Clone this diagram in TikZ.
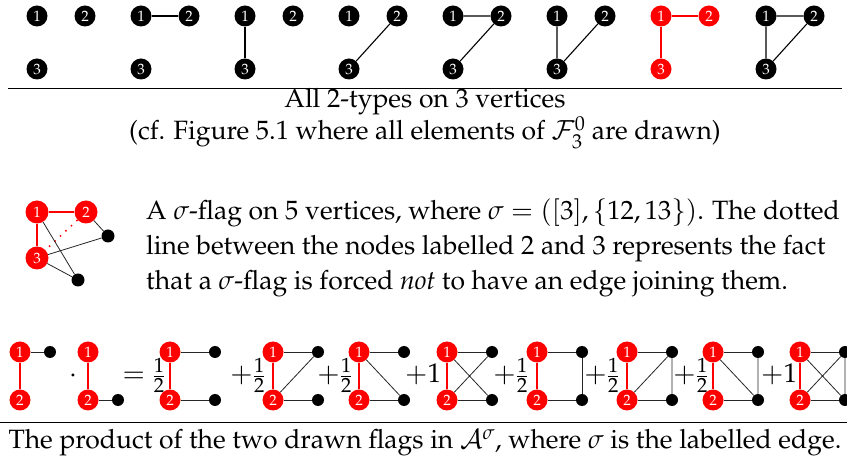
\documentclass[tikz,border=0pt]{standalone}
\usepackage[T1]{fontenc}
\usepackage{mathpazo}
\usepackage{amsmath}
\usepackage{tikz}

\tikzset{
  vlab/.style={circle, fill=black, text=white, inner sep=0pt, minimum size=21pt, font=\fontsize{15}{15}\selectfont},
  vlabred/.style={vlab, fill=red},
  vdot/.style={circle, fill=black, inner sep=0pt, minimum size=12pt},
  link/.style={line width=1.1pt},
  rlink/.style={link, red},
  blink/.style={line width=0.8pt, black!85},
  opsym/.style={anchor=base, inner sep=0pt, font=\fontsize{27}{27}\selectfont},
  txtline/.style={anchor=base west, inner sep=0pt},
}

\begin{document}
\begin{tikzpicture}[x=1pt, y=-1pt, font=\fontsize{26.5}{32}\selectfont]
\useasboundingbox (0,0) rectangle (847,462);
% all 2-types on 3 vertices
\foreach \i/\x/\s in {1/37/vlab, 2/141/vlab, 3/245/vlab, 4/349/vlab, 5/453/vlab, 6/557/vlab, 7/661/vlabred, 8/766/vlab}{
  \node[\s] (g\i-1) at (\x,16) {1};
  \node[\s] (g\i-2) at (\x+48,16) {2};
  \node[\s] (g\i-3) at (\x,69) {3};
}
\draw[link] (g2-1) -- (g2-2);
\draw[link] (g3-1) -- (g3-3);
\draw[link] (g4-2) -- (g4-3);
\draw[link] (g5-1) -- (g5-2) (g5-2) -- (g5-3);
\draw[link] (g6-1) -- (g6-3) (g6-2) -- (g6-3);
\draw[rlink] (g7-1) -- (g7-2) (g7-1) -- (g7-3);
\draw[link] (g8-1) -- (g8-2) -- (g8-3) -- (g8-1);
\draw[line width=1pt] (8,89) -- (842,89);
\node[anchor=base] (capa) at (425,108) {All 2-types on 3 vertices};
\node[anchor=base] (capb) at (425,140) {(cf. Figure 5.1 where all elements of $\mathcal{F}_3^0$ are drawn)};

% a sigma-flag
\node[vlabred, minimum size=23pt] (f1) at (37,212) {1};
\node[vlabred, minimum size=23pt] (f2) at (86,212) {2};
\node[vlabred, minimum size=23pt] (f3) at (37,258) {3};
\node[vdot, minimum size=13pt] (f4) at (108,236) {};
\node[vdot, minimum size=13pt] (f5) at (78,280) {};
\draw[rlink] (f1) -- (f2) (f1) -- (f3);
\draw[red, line width=1.5pt, dash pattern=on 1.5pt off 6pt] (f2) -- (f3);
\draw[blink] (f1) -- (f5) (f2) -- (f4) (f3) -- (f4) (f3) -- (f5);
\node[txtline] (para1) at (146,220) {A $\sigma$-flag on 5 vertices, where $\sigma = ([3],\{12,13\})$. The dotted};
\node[txtline] (para2) at (146,255) {line between the nodes labelled 2 and 3 represents the fact};
\node[txtline] (para3) at (146,290) {that a $\sigma$-flag is forced \emph{not} to have an edge joining them.};

% product of two flags
\node[vlabred] (a1) at (20,352) {1};
\node[vlabred] (a2) at (20,400) {2};
\node[vdot] (a3) at (50,352) {};
\draw[rlink] (a1) -- (a2);
\draw[blink] (a1) -- (a3);
\node[opsym] (times) at (73,383) {$\cdot$};
\node[vlabred] (b1) at (88,352) {1};
\node[vlabred] (b2) at (88,400) {2};
\node[vdot] (b3) at (118,400) {};
\draw[rlink] (b1) -- (b2);
\draw[blink] (b2) -- (b3);
\node[opsym] (eq) at (144,383) {$=\frac12$};
\foreach \i/\x in {1/170, 2/273, 3/359, 4/447, 5/537, 6/627, 7/713, 8/800}{
  \node[vlabred] (c\i-1) at (\x,352) {1};
  \node[vlabred] (c\i-2) at (\x,400) {2};
  \node[vdot] (c\i-3) at (\x+45,352) {};
  \node[vdot] (c\i-4) at (\x+45,400) {};
  \draw[rlink] (c\i-1) -- (c\i-2);
  \draw[blink] (c\i-1) -- (c\i-3) (c\i-2) -- (c\i-4);
}
\draw[blink] (c2-2) -- (c2-3);
\draw[blink] (c3-1) -- (c3-4);
\draw[blink] (c4-1) -- (c4-4) (c4-2) -- (c4-3);
\draw[blink] (c5-3) -- (c5-4);
\draw[blink] (c6-2) -- (c6-3) (c6-3) -- (c6-4);
\draw[blink] (c7-1) -- (c7-4) (c7-3) -- (c7-4);
\draw[blink] (c8-1) -- (c8-4) (c8-2) -- (c8-3) (c8-3) -- (c8-4);
\node[opsym] (p1) at (248,383) {$+\frac12$};
\node[opsym] (p2) at (335,383) {$+\frac12$};
\node[opsym] (p3) at (423,383) {$+1$};
\node[opsym] (p4) at (511,383) {$+\frac12$};
\node[opsym] (p5) at (602,383) {$+\frac12$};
\node[opsym] (p6) at (691,383) {$+\frac12$};
\node[opsym] (p7) at (779,383) {$+1$};
\draw[line width=1pt] (0,423) -- (847,423);
\node[anchor=base] (capc) at (425,449) {The product of the two drawn flags in $\mathcal{A}^\sigma$, where $\sigma$ is the labelled edge.};
\end{tikzpicture}
\end{document}
